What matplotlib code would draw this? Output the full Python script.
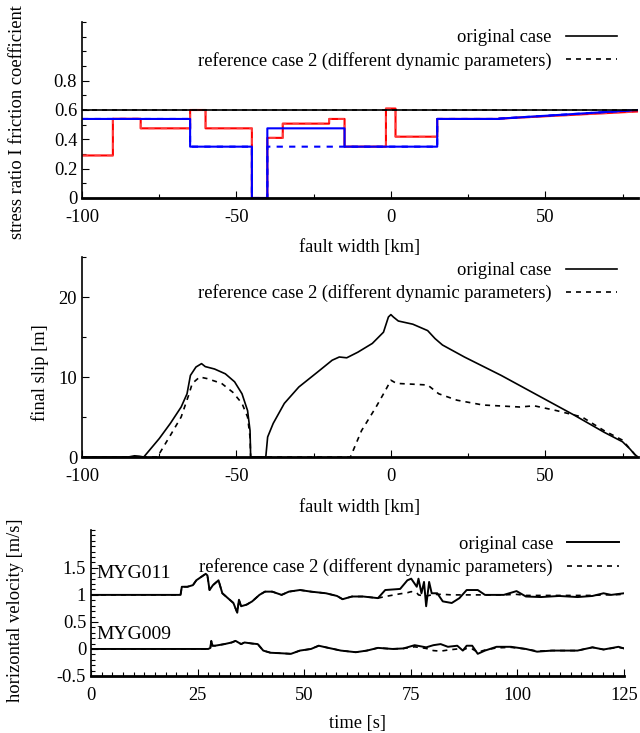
import matplotlib
matplotlib.use("Agg")
import matplotlib.pyplot as plt
from matplotlib.ticker import MultipleLocator
import numpy as np

plt.rcParams['font.family'] = ['Liberation Serif', 'DejaVu Serif']
plt.rcParams['font.size'] = 13.3
plt.rcParams['axes.unicode_minus'] = False

# ---------------- Panel 1: stress ratio / friction coefficient ----------------
fric_x = [-100, 80]
fric_orig = [0.6, 0.6]
fric_ref2 = [0.6, 0.6]

# step profiles (x break points, value in each segment)
sr_orig_x = [-100, -90, -81, -65, -60, -45, -40, -35, -20, -15, -1.6, 1.5, 15, 35, 80]
sr_orig_v = [0.29, 0.54, 0.475, 0.6, 0.475, 0.0, 0.41, 0.507, 0.539, 0.35, 0.61, 0.418, 0.539, 0.541]
sr_orig_end = 0.59

sr_ref_x = [-100, -65, -45, -40, -15, 15, 35, 80]
sr_ref_v = [0.539, 0.35, 0.0, 0.475, 0.35, 0.539, 0.541]
sr_ref_end = 0.6
sr_ref2_v = [0.539, 0.35, 0.0, 0.35, 0.35, 0.539, 0.541]

# ---------------- Panel 2: final slip ----------------
slip_orig_x = [-100, -85, -83, -81.5, -80, -75, -71.4, -67.9, -66, -64.9, -63.1, -61.3, -60.1,
               -57.1, -53.6, -50.6, -48.2, -46.4, -45.6, -45.4, -40.5, -39.9, -38.1, -34.5,
               -29.8, -23.8, -19, -16.7, -14.3, -10.7, -6, -2.4, -0.8, 0, 0.8, 2.4, 7.1, 11.9,
               14.3, 16.7, 23.8, 35.7, 47.6, 59.5, 69, 75, 77.4, 79, 80]
slip_orig_y = [0, 0, 0.15, 0.1, 0, 2.3, 4.2, 6.25, 7.9, 10.2, 11.25, 11.67, 11.3,
               11.0, 10.4, 9.4, 7.9, 5.8, 3.3, 0, 0, 2.5, 4.2, 6.7,
               8.75, 10.6, 12.1, 12.5, 12.4, 13.1, 14.2, 15.6, 17.5, 17.8, 17.5, 17.0, 16.6, 15.8,
               14.8, 14.0, 12.5, 10.2, 7.7, 5.2, 3.1, 1.9, 1.0, 0.3, 0]

slip_ref2_x = [-100, -75.6, -71.4, -67.9, -65.5, -64.3, -61.9, -59.5, -54.8, -51.2, -48.2, -46.4,
               -45.6, -45.4, -13.1, -9.5, -4.8, -1.8, 0, 1.8, 7.1, 11.9, 15.5, 21.4, 29.8,
               41.7, 46.4, 53.6, 61.9, 69, 75, 79, 80]
slip_ref2_y = [0, 0, 2.7, 5.0, 7.7, 9.2, 10.0, 9.8, 9.2, 8.1, 6.7, 5.0,
               2.5, 0, 0, 3.3, 6.25, 8.3, 9.6, 9.2, 9.1, 9.0, 7.9, 7.1, 6.5,
               6.25, 6.4, 5.8, 5.0, 3.3, 2.1, 0.3, 0]

# ---------------- Panel 3: horizontal velocity ----------------
t011 = [0, 21.0, 21.3, 22.6, 23.9, 24.7, 26.9, 27.3, 27.8, 28.6, 29.9, 30.8, 32.1, 33.4, 34.3,
        34.7, 35.2, 36.5, 37.8, 39.5, 40.8, 42.5, 44.7, 46.4, 49.0, 51.6, 55.1, 57.7, 59.0,
        61.2, 63.8, 67.3, 69.0, 72.5, 74.2, 75.1, 76.4, 76.8, 77.5, 78.1, 78.6, 79.3, 79.9,
        81.2, 82.5, 84.6, 86.4, 88.1, 90.7, 92.4, 96.8, 99.8, 102.0, 105.5, 109.8, 114.1,
        117.6, 120.2, 122.0, 125]
v011_orig = [1.0, 1.0, 1.15, 1.15, 1.18, 1.27, 1.39, 1.36, 1.09, 1.18, 1.27, 1.03, 0.94, 0.85, 0.67,
             0.91, 0.79, 0.82, 0.88, 1.0, 1.06, 1.06, 1.0, 1.06, 1.09, 1.06, 1.03, 0.98, 0.92,
             0.97, 0.97, 0.94, 1.09, 1.11, 1.27, 1.30, 1.15, 1.30, 1.03, 1.24, 0.79, 1.24, 1.03,
             1.03, 0.88, 0.85, 0.94, 1.09, 1.09, 1.0, 1.0, 1.07, 0.97, 0.96, 0.98, 0.96,
             0.98, 1.03, 1.0, 1.03]
v011_ref2 = [1.0, 1.0, 1.15, 1.15, 1.18, 1.27, 1.39, 1.36, 1.09, 1.18, 1.27, 1.03, 0.94, 0.85, 0.67,
             0.91, 0.79, 0.82, 0.88, 1.0, 1.06, 1.06, 1.0, 1.06, 1.09, 1.06, 1.03, 0.98, 0.92,
             0.97, 0.97, 0.94, 0.97, 1.02, 1.04, 1.06, 1.04, 1.0, 0.99, 0.99, 0.98, 0.99, 1.0,
             1.01, 1.01, 1.0, 1.0, 1.0, 1.0, 1.0, 1.0, 1.01, 0.99, 0.99, 0.99, 0.99,
             0.99, 1.0, 1.0, 1.01]

t009 = [0, 27.5, 28.0, 28.2, 28.5, 29.1, 31.3, 33.0, 33.9, 35.2, 36.0, 37.8, 39.1, 40.4, 42.1,
        44.7, 46.9, 49.0, 51.6, 53.4, 55.1, 58.6, 62.1, 64.7, 67.3, 70.7, 73.3, 75.9, 78.6,
        80.3, 82.0, 83.7, 85.9, 87.2, 88.1, 89.4, 90.7, 92.4, 95.1, 98.5, 102.0, 104.6,
        108.1, 114.1, 117.6, 120.2, 123.7, 125]
v009_orig = [0, 0, 0.02, 0.15, 0.06, 0.06, 0.09, 0.12, 0.15, 0.09, 0.12, 0.1, 0.09, -0.03, -0.07,
             -0.08, -0.09, -0.03, 0.0, 0.06, 0.03, -0.03, -0.06, -0.03, 0.02, 0.0, 0.01, 0.07, 0.03,
             0.07, 0.09, 0.04, 0.06, -0.03, 0.06, 0.06, -0.09, -0.03, 0.04, 0.04, 0.0, -0.05,
             -0.03, -0.03, 0.03, -0.01, 0.04, 0.01]
v009_ref2 = [0, 0, 0.02, 0.15, 0.06, 0.06, 0.09, 0.12, 0.15, 0.09, 0.12, 0.1, 0.09, -0.03, -0.07,
             -0.08, -0.09, -0.03, 0.0, 0.06, 0.03, -0.03, -0.06, -0.03, 0.02, 0.0, 0.01, 0.04, 0.01,
             -0.03, -0.04, -0.02, 0.0, -0.02, 0.01, 0.0, -0.06, -0.02, 0.02, 0.03, 0.0, -0.04,
             -0.03, -0.03, 0.03, -0.01, 0.03, 0.01]

station_labels = ["MYG011", "MYG009"]
legend_labels = ["original case", "reference case 2 (different dynamic parameters)"]


def step_xy(xb, vals, end_val):
    xs, ys = [], []
    n = len(vals)
    for i in range(n):
        xs += [xb[i], xb[i + 1]]
        ys += [vals[i], vals[i] if i < n - 1 else end_val]
    return xs, ys


def style_axis(ax):
    for s in ['top', 'right']:
        ax.spines[s].set_visible(False)
    ax.spines['left'].set_linewidth(1.2)
    ax.spines['bottom'].set_linewidth(2.0)
    ax.tick_params(which='both', direction='in', length=5, width=0.8)
    ax.tick_params(which='minor', length=3)
    ax.tick_params(axis='x', pad=8)


def add_legend(ax, handles, x, y):
    ax.legend(handles, legend_labels, loc='upper right', bbox_to_anchor=(x, y),
              frameon=False, markerfirst=False, handlelength=2.8, handletextpad=0.75,
              borderaxespad=0, borderpad=0, labelspacing=0.3)


W, H = 640, 733
fig = plt.figure(figsize=(W / 100, H / 100), dpi=100)

# ---- Panel 1 ----
ax1 = fig.add_axes([82 / W, 1 - 198 / H, 556 / W, 176 / H])
xs, ys = step_xy(sr_orig_x, sr_orig_v, sr_orig_end)
ax1.plot(xs, ys, color='#ff0000', lw=1.5)
ax1.plot(xs, ys, color='#ff6060', lw=1.5, ls=(0, (3, 3)), alpha=0.6)
xs2, ys2 = step_xy(sr_ref_x, sr_ref_v, sr_ref_end)
ax1.plot(xs2, ys2, color='#0000ff', lw=1.5)
xs3, ys3 = step_xy(sr_ref_x, sr_ref2_v, sr_ref_end)
ax1.plot(xs3, ys3, color='#0000ff', lw=1.5, ls=(0, (3, 3)))
h1, = ax1.plot(fric_x, fric_orig, color='black', lw=1.2)
h2, = ax1.plot(fric_x, fric_ref2, color='black', lw=1.2, ls=(0, (3, 3)))
ax1.set_xlim(-100, 80)
ax1.set_ylim(0, 1.2)
ax1.set_yticks([0, 0.2, 0.4, 0.6, 0.8])
ax1.set_yticklabels(['0', '0.2', '0.4', '0.6', '0.8'])
ax1.set_xticks([-100, -50, 0, 50])
ax1.xaxis.set_minor_locator(MultipleLocator(25))
ax1.yaxis.set_minor_locator(MultipleLocator(0.1))
style_axis(ax1)
ax1.set_xlabel('fault width [km]', labelpad=9)
ax1.set_ylabel('stress ratio I friction coefficient')
ax1.yaxis.set_label_coords(-0.1, 0.43)
add_legend(ax1, [h1, h2], 0.963, 0.96)

# ---- Panel 2 ----
ax2 = fig.add_axes([82 / W, 1 - 457 / H, 556 / W, 200 / H])
g1, = ax2.plot(slip_orig_x, slip_orig_y, color='black', lw=1.2)
g2, = ax2.plot(slip_ref2_x, slip_ref2_y, color='black', lw=1.2, ls=(0, (3, 3)))
ax2.set_xlim(-100, 80)
ax2.set_ylim(0, 25)
ax2.set_yticks([0, 10, 20])
ax2.set_xticks([-100, -50, 0, 50])
ax2.xaxis.set_minor_locator(MultipleLocator(25))
ax2.yaxis.set_minor_locator(MultipleLocator(5))
style_axis(ax2)
ax2.set_xlabel('fault width [km]', labelpad=10)
ax2.set_ylabel('final slip [m]')
ax2.yaxis.set_label_coords(-0.06, 0.42)
add_legend(ax2, [g1, g2], 0.963, 0.975)

# ---- Panel 3 ----
ax3 = fig.add_axes([91 / W, 1 - 676 / H, 533 / W, 146 / H])
k1, = ax3.plot(t011, v011_orig, color='black', lw=1.4)
k2, = ax3.plot(t011, v011_ref2, color='black', lw=1.2, ls=(0, (3, 3)))
ax3.plot(t009, v009_orig, color='black', lw=1.4)
ax3.plot(t009, v009_ref2, color='black', lw=1.2, ls=(0, (3, 3)))
ax3.text(1.3, 1.39, station_labels[0], va='center', ha='left', fontsize=14)
ax3.text(1.3, 0.27, station_labels[1], va='center', ha='left', fontsize=14)
ax3.set_xlim(0, 125)
ax3.set_ylim(-0.5, 2.2)
ax3.set_yticks([-0.5, 0, 0.5, 1, 1.5])
ax3.set_yticklabels(['-0.5', '0', '0.5', '1', '1.5'])
ax3.set_xticks([0, 25, 50, 75, 100, 125])
ax3.xaxis.set_minor_locator(MultipleLocator(2.5))
ax3.yaxis.set_minor_locator(MultipleLocator(0.1))
style_axis(ax3)
ax3.set_xlabel('time [s]', labelpad=8)
ax3.set_ylabel('horizontal velocity [m/s]')
ax3.yaxis.set_label_coords(-0.125, 0.45)
add_legend(ax3, [k1, k2], 0.99, 0.96)

fig.savefig('out.png', dpi=100)
